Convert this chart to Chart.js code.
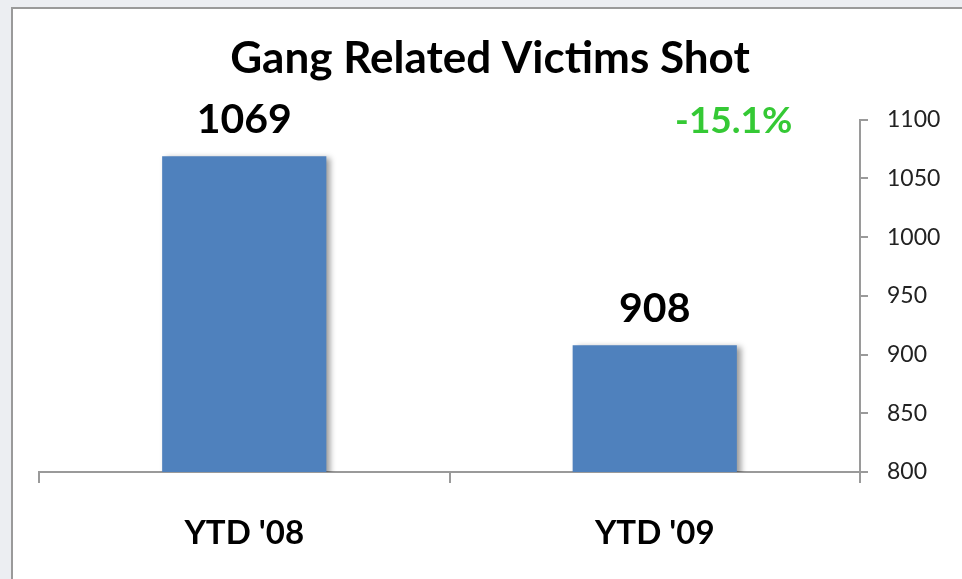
<!DOCTYPE html>
<html>
<head>
<meta charset="utf-8">
<script src="https://cdn.jsdelivr.net/npm/chart.js@4/dist/chart.umd.min.js"></script>
<style>
  html, body { margin: 0; padding: 0; background: #eceef2; overflow: hidden; }
  #panel {
    position: absolute; left: 11px; top: 7px; width: 960px; height: 580px;
    background: #fff; border-top: 2px solid #9a9a9a; border-left: 2px solid #9a9a9a;
  }
  #chart { position: absolute; left: 0; top: 0; }
</style>
</head>
<body>
<div id="panel"></div>
<canvas id="chart" width="962" height="579"></canvas>
<script>
// ==== Data ====
const categories = ["YTD '08", "YTD '09"];
const victimsShot = [1069, 908];
const changeText = '-15.1%';
const yMin = 800;
const yMax = 1100;
const yStep = 50;

const axisGray = '#9a9a9a';

// shadow behind the bars
const barShadow = {
    id: 'barShadow',
    beforeDatasetsDraw(chart) {
        const c = chart.ctx;
        c.save();
        c.shadowColor = 'rgba(0,0,0,0.4)';
        c.shadowBlur = 6;
        c.shadowOffsetX = 4;
        c.shadowOffsetY = 2;
    },
    afterDatasetsDraw(chart) {
        chart.ctx.restore();
    }
};

// value labels + the change label
const valueLabels = {
    id: 'valueLabels',
    afterDraw(chart) {
        const c = chart.ctx;
        const bars = chart.getDatasetMeta(0).data;
        c.save();
        c.textAlign = 'center';
        c.textBaseline = 'alphabetic';
        c.fillStyle = '#000';
        c.font = 'bold 41px Lato';
        bars.forEach((bar, i) => {
            c.fillText(String(victimsShot[i]), bar.x, bar.y - 23);
        });
        // percentage change, top right
        c.fillStyle = '#35c935';
        c.font = 'bold 37px Lato';
        c.fillText(changeText, bars[1].x + 79, chart.scales.y.getPixelForValue(yMax) + 13);
        c.restore();
    }
};

const ctx = document.getElementById('chart').getContext('2d');
const chart = new Chart(ctx, {
    type: 'bar',
    data: {
        labels: categories,
        datasets: [{
            data: victimsShot,
            backgroundColor: '#4f81bd',
            borderWidth: 0,
            categoryPercentage: 1,
            barPercentage: 0.4
        }]
    },
    options: {
        responsive: false,
        animation: false,
        layout: { padding: { left: 39, right: 21, top: 0, bottom: 0 } },
        plugins: {
            legend: { display: false },
            tooltip: { enabled: false },
            title: {
                display: true,
                text: 'Gang Related Victims Shot',
                color: '#000',
                font: { family: 'Lato', size: 44, weight: 'bold', lineHeight: 1.2 },
                padding: { top: 32, bottom: 35 }
            }
        },
        scales: {
            x: {
                grid: {
                    offset: true,
                    drawOnChartArea: false,
                    tickLength: 11,
                    color: axisGray,
                    lineWidth: 2
                },
                border: { display: true, color: axisGray, width: 2 },
                ticks: {
                    color: '#000',
                    padding: 31,
                    font: { family: 'Lato', size: 33, weight: 'bold' }
                },
                afterFit(scale) { scale.height = 107; }
            },
            y: {
                position: 'right',
                min: yMin,
                max: yMax,
                ticks: {
                    stepSize: yStep,
                    color: '#222',
                    padding: 19,
                    font: { family: 'Lato', size: 23 },
                    callback: (v) => String(v)
                },
                grid: {
                    drawOnChartArea: false,
                    tickLength: 8,
                    color: axisGray,
                    lineWidth: 2
                },
                border: { display: true, color: axisGray, width: 2 },
                afterFit(scale) { scale.width = 81; }
            }
        }
    },
    plugins: [barShadow, valueLabels]
});
</script>
</body>
</html>
